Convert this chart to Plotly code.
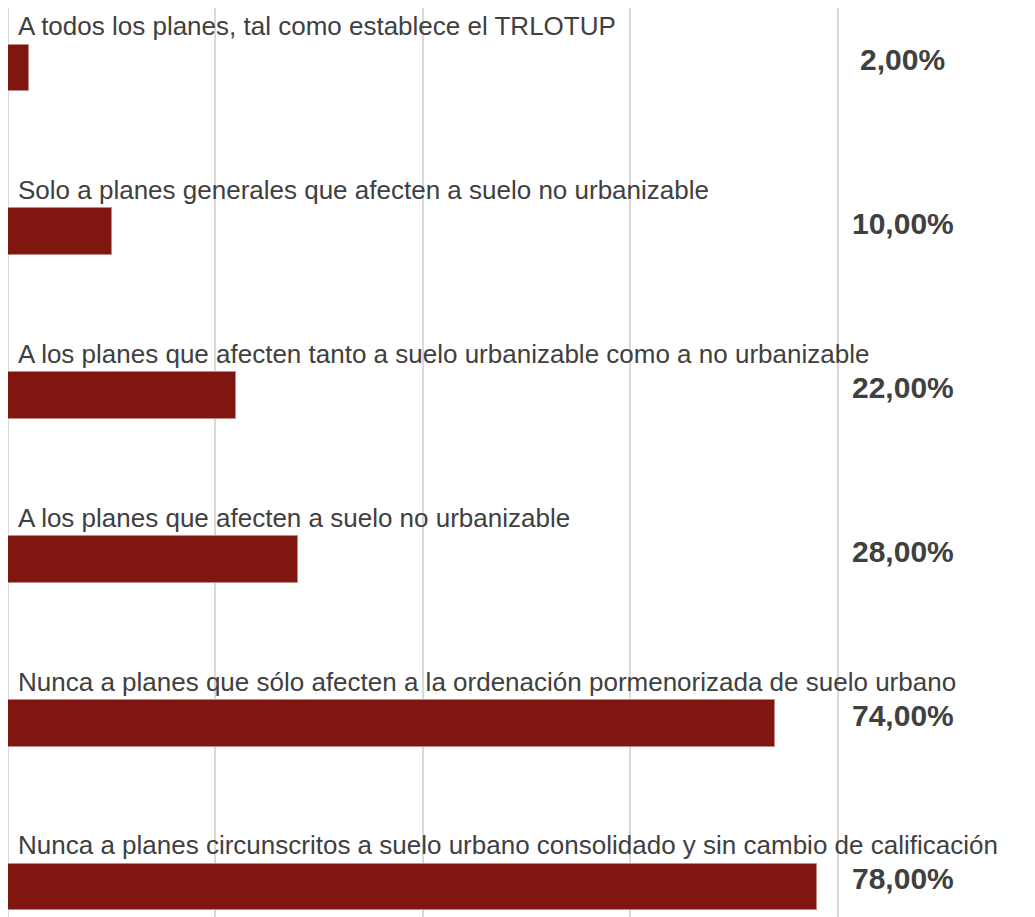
import plotly.graph_objects as go

categories = [
    'A todos los planes, tal como establece el TRLOTUP',
    'Solo a planes generales que afecten a suelo no urbanizable',
    'A los planes que afecten tanto a suelo urbanizable como a no urbanizable',
    'A los planes que afecten a suelo no urbanizable',
    'Nunca a planes que sólo afecten a la ordenación pormenorizada de suelo urbano',
    'Nunca a planes circunscritos a suelo urbano consolidado y sin cambio de calificación',
]
values = [2.0, 10.0, 22.0, 28.0, 74.0, 78.0]
value_labels = ['2,00%', '10,00%', '22,00%', '28,00%', '74,00%', '78,00%']

bar_color = '#7f1710'
text_color = '#404040'
positions = list(range(len(categories)))

fig = go.Figure()
fig.add_trace(go.Bar(
    x=values,
    y=positions,
    orientation='h',
    width=0.285,
    marker=dict(color=bar_color, line=dict(color='#c08a86', width=1)),
    hoverinfo='skip',
    showlegend=False,
))

for i, (cat, lab) in enumerate(zip(categories, value_labels)):
    fig.add_annotation(
        x=0.8, y=i - 0.15, xref='x', yref='y',
        text=cat, showarrow=False,
        xanchor='left', yanchor='bottom',
        font=dict(family='Liberation Sans, Arial, sans-serif', size=26, color=text_color),
    )
    fig.add_annotation(
        x=1.065, y=i - 0.05, xref='paper', yref='y',
        text='<b>' + lab + '</b>', showarrow=False,
        xanchor='center', yanchor='middle',
        font=dict(family='Liberation Sans, Arial, sans-serif', size=30, color=text_color),
    )

fig.update_layout(
    width=1035,
    height=917,
    plot_bgcolor='white',
    paper_bgcolor='white',
    margin=dict(l=0, r=195, t=0, b=0),
    bargap=0,
)
fig.update_xaxes(
    range=[0, 81],
    dtick=20,
    showgrid=True,
    gridcolor='#d9d9d9',
    gridwidth=2,
    zeroline=True,
    zerolinecolor='#d9d9d9',
    zerolinewidth=2,
    showticklabels=False,
    showline=False,
    fixedrange=True,
)
fig.update_yaxes(
    range=[5.232, -0.3663],
    showgrid=False,
    zeroline=False,
    showticklabels=False,
    showline=False,
    fixedrange=True,
)

fig.write_html('out.html')
